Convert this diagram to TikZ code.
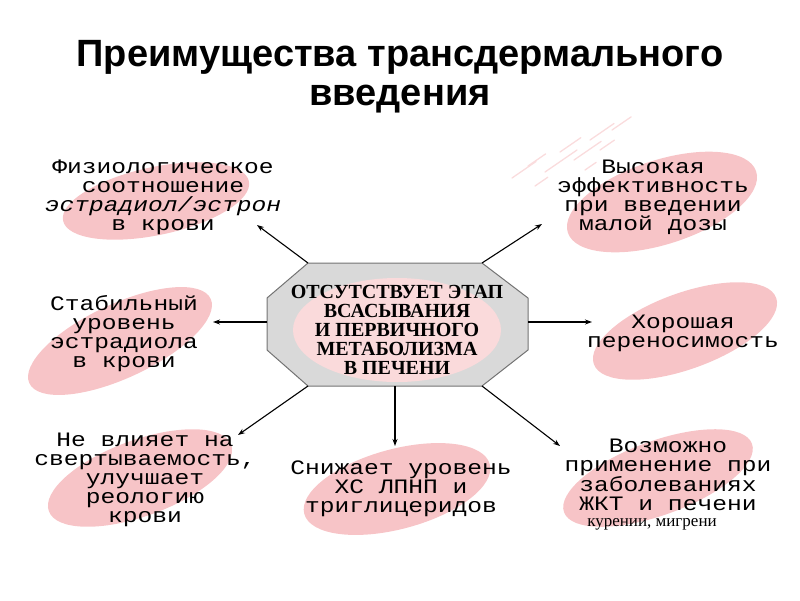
\documentclass[tikz,border=0pt]{standalone}
\usepackage{fontspec}
\setmainfont{Liberation Serif}
\newfontfamily\courfont[FakeStretch=1.2]{Liberation Mono}
\newfontfamily\hdfont{Liberation Sans}
\usetikzlibrary{arrows.meta,shapes.geometric}
\definecolor{rose}{HTML}{F7C4C7}
\definecolor{lightrose}{HTML}{FADADB}
\definecolor{octgray}{HTML}{D9D9D9}

\begin{document}
\begin{tikzpicture}[x=1pt,y=-1pt,>={Stealth[length=7pt,width=5pt]},
  blob/.style={ellipse,fill=rose,inner sep=0pt},
  txt/.style={align=center,inner sep=0pt,font=\courfont\fontsize{20.5}{19}\selectfont},
  arr/.style={->,line width=1.1pt}]
\useasboundingbox (0,0) rectangle (800,600);
\node[align=center,font=\hdfont\bfseries\fontsize{38}{39}\selectfont] (title) at (400,77) {Преимущества трансдермального\\введения};
\foreach \x/\y/\l in {512/178/30, 528/166/22, 545/172/40, 560/152/26, 574/160/34, 590/140/30, 600/150/18, 612/130/24, 535/186/16, 585/170/14}
  \draw[rose!60,line width=1.3pt,line cap=round] (\x,\y) -- ++({0.8*\l},{-0.55*\l});
\node[blob,rotate=12,minimum width=190pt,minimum height=68pt] (e1) at (156,201) {};
\node[blob,rotate=18,minimum width=198pt,minimum height=84pt] (e2) at (662,202) {};
\node[blob,rotate=25,minimum width=200pt,minimum height=74pt] (e3) at (120,341) {};
\node[blob,rotate=20,minimum width=194pt,minimum height=76pt] (e4) at (685,331) {};
\node[blob,rotate=20,minimum width=194pt,minimum height=76pt] (e5) at (140,478) {};
\node[blob,rotate=15,minimum width=192pt,minimum height=80pt] (e6) at (397,489) {};
\node[blob,rotate=20,minimum width=200pt,minimum height=74pt] (e7) at (658,478) {};
\coordinate (oct-nw) at (308,263); \coordinate (oct-ne) at (482,263);
\coordinate (oct-en) at (528,298); \coordinate (oct-es) at (528,350);
\coordinate (oct-se) at (482,386); \coordinate (oct-sw) at (308,386);
\coordinate (oct-ws) at (267,350); \coordinate (oct-wn) at (267,298);
\coordinate (oct-w) at (267,322); \coordinate (oct-e) at (528,322); \coordinate (oct-s) at (395,386);
\draw[fill=octgray,draw=black!55,line width=1pt] (oct-nw) -- (oct-ne) -- (oct-en) -- (oct-es) -- (oct-se) -- (oct-sw) -- (oct-ws) -- (oct-wn) -- cycle;
\node[ellipse,fill=lightrose,minimum width=208pt,minimum height=104pt] (inner) at (397,330) {};
\node[align=center,inner sep=0pt,font=\bfseries\fontsize{20}{19}\selectfont] (core) at (397,330) {ОТСУТСТВУЕТ ЭТАП\\ВСАСЫВАНИЯ\\И ПЕРВИЧНОГО\\МЕТАБОЛИЗМА\\В ПЕЧЕНИ};
\node[txt] (t1) at (163,197) {Физиологическое\\соотношение\\{\itshape эстрадиол/эстрон}\\в крови};
\node[txt] (t2) at (653,197) {Высокая\\эффективность\\при введении\\малой дозы};
\node[txt] (t3) at (124,334) {Стабильный\\уровень\\эстрадиола\\в крови};
\node[txt] (t4) at (683,333) {Хорошая\\переносимость};
\node[txt] (t5) at (145,480) {Не влияет на\\свертываемость,\\улучшает\\реологию\\крови};
\node[txt] (t6) at (401,489) {Снижает уровень\\ХС ЛПНП и\\триглицеридов};
\node[txt] (t7) at (668,475) {Возможно\\применение при\\заболеваниях\\ЖКТ и печени};
\node[inner sep=0pt,font=\fontsize{17}{19}\selectfont] (t7b) at (652,524) {курении, мигрени};
\coordinate (tip1) at (257,225); \coordinate (tip2) at (542,224);
\coordinate (tip3) at (213,322); \coordinate (tip4) at (592,322);
\coordinate (tip5) at (238,435); \coordinate (tip6) at (395,446);
\coordinate (tip7) at (560,446);
\draw[arr] (oct-nw) -- (tip1);
\draw[arr] (oct-ne) -- (tip2);
\draw[arr] (oct-w) -- (tip3);
\draw[arr] (oct-e) -- (tip4);
\draw[arr] (oct-sw) -- (tip5);
\draw[arr] (oct-s) -- (tip6);
\draw[arr] (oct-se) -- (tip7);
\end{tikzpicture}
\end{document}
